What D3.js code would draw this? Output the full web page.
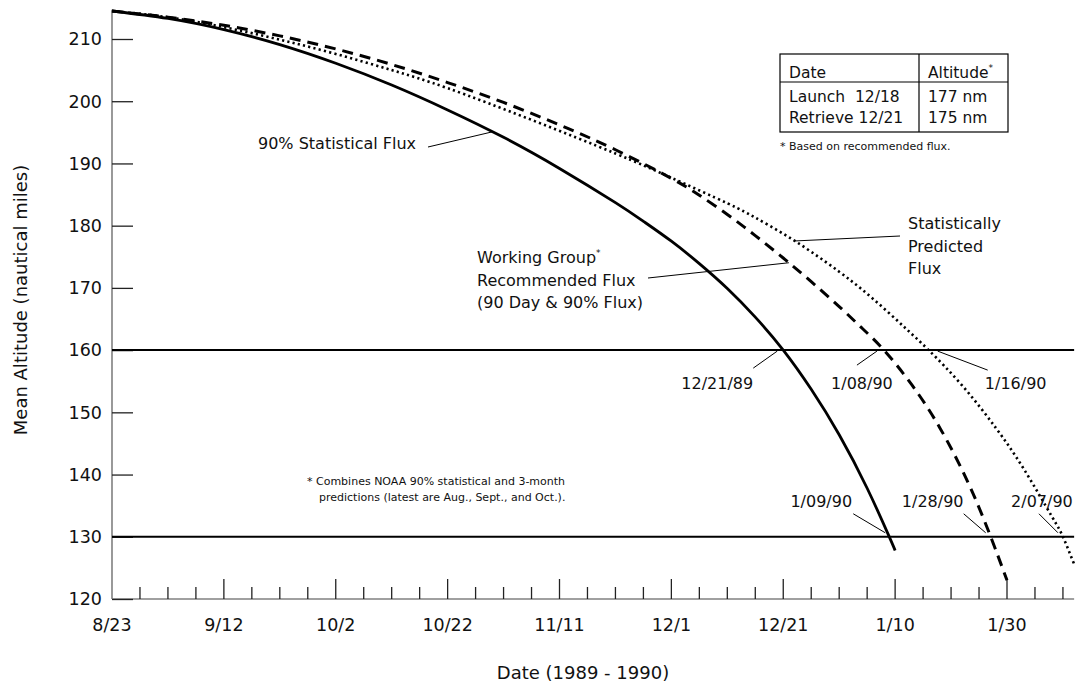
<!DOCTYPE html>
<html><head><meta charset="utf-8">
<script src="https://cdn.jsdelivr.net/npm/d3@7"></script>
<style>
body{margin:0;background:#fff;}
svg text{font-family:"DejaVu Sans",Verdana,sans-serif;fill:#111;}
</style></head><body>
<svg id="chart" width="1077" height="688"></svg>
<script>
// ---------------- data ----------------
const seriesNames = ["90% Statistical Flux", "Working Group Recommended Flux", "Statistically Predicted Flux"];

const statDates  = ["1989-08-23","1989-09-02","1989-09-12","1989-09-22","1989-10-02","1989-10-12","1989-10-22","1989-11-01","1989-11-11","1989-11-21","1989-11-26","1989-12-01","1989-12-06","1989-12-11","1989-12-16","1989-12-21","1989-12-26","1989-12-31","1990-01-05","1990-01-09","1990-01-10"];
const statValues = [214.5,213.3,211.5,209.1,206.1,202.6,198.6,194.2,189.2,183.7,180.7,177.5,173.9,169.9,165.3,160.0,153.7,146.4,137.8,129.9,127.8];

const workDates  = ["1989-08-23","1989-09-02","1989-09-12","1989-09-22","1989-10-02","1989-10-12","1989-10-22","1989-11-01","1989-11-11","1989-11-21","1989-12-01","1989-12-06","1989-12-11","1989-12-16","1989-12-21","1989-12-26","1989-12-31","1990-01-04","1990-01-08","1990-01-13","1990-01-18","1990-01-23","1990-01-27","1990-01-30"];
const workValues = [214.5,213.5,212.2,210.5,208.4,205.9,203.0,199.8,196.2,192.2,187.6,184.9,181.8,178.4,174.8,171.0,167.0,163.6,160.0,154.4,147.5,138.8,130.2,123.0];

const predDates  = ["1989-08-23","1989-09-02","1989-09-12","1989-09-22","1989-10-02","1989-10-12","1989-10-22","1989-11-06","1989-11-21","1989-12-01","1989-12-11","1989-12-16","1989-12-21","1989-12-26","1989-12-31","1990-01-04","1990-01-08","1990-01-12","1990-01-16","1990-01-22","1990-01-28","1990-02-02","1990-02-07","1990-02-09","1990-02-11"];
const predValues = [214.5,213.5,211.9,209.9,207.6,205.0,202.1,197.0,191.6,187.7,183.6,181.3,178.7,175.8,172.6,169.8,166.7,163.4,160.0,154.3,147.5,140.9,133.3,130.0,125.6];

const refLevels = [160, 130];

const yTickValues = [120,130,140,150,160,170,180,190,200,210];
const xMajorDates = ["1989-08-23","1989-09-12","1989-10-02","1989-10-22","1989-11-11","1989-12-01","1989-12-21","1990-01-10","1990-01-30"];
const xTickLabels = ["8/23","9/12","10/2","10/22","11/11","12/1","12/21","1/10","1/30"];

const crossSeries = [0, 1, 2, 0, 1, 2];
const crossLevels = [160,160,160,130,130,130];
const crossLabels = ["12/21/89","1/08/90","1/16/90","1/09/90","1/28/90","2/07/90"];

const tableHeader = ["Date","Altitude"];
const tableRows = [["Launch  12/18","177 nm"],["Retrieve 12/21","175 nm"]];

// ---------------- drawing ----------------
const parse = d3.timeParse("%Y-%m-%d");
const svg = d3.select("#chart");

const x = d3.scaleTime()
  .domain([parse("1989-08-23"), parse("1990-01-30")])
  .range([112, 1007]);
const y = d3.scaleLinear().domain([120, 210]).range([599, 39]);

const xEnd = x(parse("1990-02-11"));
const yTop = y(214.7);

const series = [
  {dates: statDates.map(parse), values: statValues, dash: null, w: 2.8},
  {dates: workDates.map(parse), values: workValues, dash: "11,7", w: 3},
  {dates: predDates.map(parse), values: predValues, dash: "2.2,3.2", w: 2.6}
];
function valueAt(s, date) {
  const t = +date;
  for (let i = 1; i < s.dates.length; i++) {
    if (t <= +s.dates[i]) {
      const f = (t - s.dates[i-1]) / (s.dates[i] - s.dates[i-1]);
      return s.values[i-1] + f * (s.values[i] - s.values[i-1]);
    }
  }
  return s.values[s.values.length - 1];
}
function crossing(s, level) {
  for (let i = 1; i < s.values.length; i++) {
    const a = s.values[i-1], b = s.values[i];
    if ((a - level) * (b - level) <= 0 && a !== b) {
      const f = (a - level) / (a - b);
      return new Date(+s.dates[i-1] + f * (s.dates[i] - s.dates[i-1]));
    }
  }
  return s.dates[s.dates.length - 1];
}

// axes lines (grey)
svg.append("line").attr("x1", x.range()[0]).attr("x2", x.range()[0])
  .attr("y1", y(120)).attr("y2", yTop).attr("stroke", "#808080").attr("stroke-width", 1.6);
svg.append("line").attr("x1", x.range()[0]).attr("x2", xEnd)
  .attr("y1", y(120)).attr("y2", y(120)).attr("stroke", "#808080").attr("stroke-width", 1.6);

// y ticks (inside) + labels
const yAxis = d3.axisRight(y).tickValues(yTickValues).tickSize(21).tickFormat("");
const yg = svg.append("g").attr("transform", `translate(${x.range()[0]},0)`).call(yAxis);
yg.select(".domain").remove();
yg.selectAll(".tick line").attr("stroke", "#222").attr("stroke-width", 1.3);
svg.append("g").selectAll("text").data(yTickValues).join("text")
  .attr("x", 102).attr("y", d => y(d)).attr("dy", "0.36em")
  .attr("text-anchor", "end").attr("font-size", 17.5).text(d => d);

// x ticks: minor every 5 days, major every 20 days (upwards)
const start = parse("1989-08-23");
const allTicks = d3.range(5, 175, 5).map(k => d3.timeDay.offset(start, k)).filter(d => x(d) < xEnd - 2);
const majorSet = new Set(xMajorDates.map(s => +parse(s)));
svg.append("g").selectAll("line").data(allTicks).join("line")
  .attr("x1", d => x(d)).attr("x2", d => x(d))
  .attr("y1", y(120)).attr("y2", d => y(120) - (majorSet.has(+d) ? 20 : 12))
  .attr("stroke", "#222").attr("stroke-width", 1.3);
svg.append("g").selectAll("text").data(xMajorDates).join("text")
  .attr("x", d => x(parse(d))).attr("y", 631)
  .attr("text-anchor", "middle").attr("font-size", 17.5)
  .text((d, i) => xTickLabels[i]);

// axis titles
svg.append("text").attr("x", 583).attr("y", 679).attr("text-anchor", "middle")
  .attr("font-size", 18).text("Date (1989 - 1990)");
svg.append("text").attr("transform", "translate(27,300) rotate(-90)")
  .attr("text-anchor", "middle").attr("font-size", 18).text("Mean Altitude (nautical miles)");

// reference lines
svg.append("g").selectAll("line").data(refLevels).join("line")
  .attr("x1", x.range()[0]).attr("x2", xEnd)
  .attr("y1", d => y(d)).attr("y2", d => y(d))
  .attr("stroke", "#000").attr("stroke-width", 2);

// series
const line = d3.line().x(d => x(d[0])).y(d => y(d[1])).curve(d3.curveNatural);
svg.append("g").selectAll("path").data(series).join("path")
  .attr("d", s => line(s.dates.map((d, i) => [d, s.values[i]])))
  .attr("fill", "none").attr("stroke", "#000")
  .attr("stroke-width", s => s.w)
  .attr("stroke-dasharray", s => s.dash);

// annotation helpers
function leader(x1, y1, x2, y2) {
  svg.append("line").attr("x1", x1).attr("y1", y1).attr("x2", x2).attr("y2", y2)
    .attr("stroke", "#000").attr("stroke-width", 1);
}
function textLine(tx, ty, str, anchor, size, sup) {
  const t = svg.append("text").attr("x", tx).attr("y", ty)
    .attr("text-anchor", anchor || "start").attr("font-size", size || 16);
  t.append("tspan").text(str);
  if (sup) t.append("tspan").attr("dy", -7).attr("font-size", 9).text(sup);
  return t;
}

// series labels + leaders anchored on the curves
const dS = parse("1989-10-30");
textLine(258, 149, seriesNames[0]);
leader(428, 147, x(dS), y(valueAt(series[0], dS)));

textLine(477, 263, "Working Group", "start", 16, "*");
textLine(477, 285.5, "Recommended Flux");
textLine(477, 308, "(90 Day & 90% Flux)");
const dW = parse("1989-12-22");
leader(648, 278, x(dW), y(valueAt(series[1], dW)));

textLine(908, 229, "Statistically");
textLine(908, 251.5, "Predicted");
textLine(908, 274, "Flux");
const dP = parse("1989-12-23");
leader(900, 236, x(dP), y(valueAt(series[2], dP)));

// crossing date labels
crossLabels.forEach((lab, i) => {
  const cd = crossing(series[crossSeries[i]], crossLevels[i]);
  const cx = x(cd), cy = y(crossLevels[i]);
  let lx1, ly1, lx2, ly2, tx, ty;
  if (i === 0) { lx1 = cx - 30; ly1 = cy + 18; lx2 = cx - 6; ly2 = cy + 1; tx = cx - 66; ty = cy + 39; }
  if (i === 1) { lx1 = cx - 27; ly1 = cy + 15; lx2 = cx - 7; ly2 = cy + 1; tx = cx - 22; ty = cy + 39; }
  if (i === 2) { lx1 = cx + 9; ly1 = cy + 1; lx2 = cx + 59; ly2 = cy + 20; tx = cx + 87; ty = cy + 39; }
  if (i === 3) { lx1 = cx - 36; ly1 = cy - 23; lx2 = cx - 4; ly2 = cy - 4; tx = cx - 68; ty = cy - 30; }
  if (i === 4) { lx1 = cx - 27; ly1 = cy - 23; lx2 = cx - 5; ly2 = cy - 4; tx = cx - 58; ty = cy - 30; }
  if (i === 5) { lx1 = cx - 24; ly1 = cy - 23; lx2 = cx - 5; ly2 = cy - 4; tx = cx - 21; ty = cy - 30; }
  leader(lx1, ly1, lx2, ly2);
  svg.append("text").attr("x", tx).attr("y", ty).attr("text-anchor", "middle")
    .attr("font-size", 16).text(lab);
});

// table
const tb = {x0: 780, x1: 919, x2: 1008, y0: 54, y1: 82, y2: 132};
svg.append("rect").attr("x", tb.x0).attr("y", tb.y0).attr("width", tb.x2 - tb.x0).attr("height", tb.y2 - tb.y0)
  .attr("fill", "none").attr("stroke", "#000").attr("stroke-width", 1.2);
svg.append("line").attr("x1", tb.x1).attr("x2", tb.x1).attr("y1", tb.y0).attr("y2", tb.y2).attr("stroke", "#000").attr("stroke-width", 1.2);
svg.append("line").attr("x1", tb.x0).attr("x2", tb.x2).attr("y1", tb.y1).attr("y2", tb.y1).attr("stroke", "#000").attr("stroke-width", 1.2);
textLine(tb.x0 + 9, 78, tableHeader[0], "start", 15.5);
textLine(tb.x1 + 9, 78, tableHeader[1], "start", 15.5, "*");
tableRows.forEach((r, i) => {
  textLine(tb.x0 + 9, 102 + i * 21, r[0], "start", 15.5).style("white-space", "pre");
  textLine(tb.x1 + 9, 102 + i * 21, r[1], "start", 15.5);
});
textLine(780, 150, "* Based on recommended flux.", "start", 11);

// footnote
textLine(307, 485, "* Combines NOAA 90% statistical and 3-month", "start", 11);
textLine(319, 501, "predictions (latest are Aug., Sept., and Oct.).", "start", 11);
</script>
</body></html>
